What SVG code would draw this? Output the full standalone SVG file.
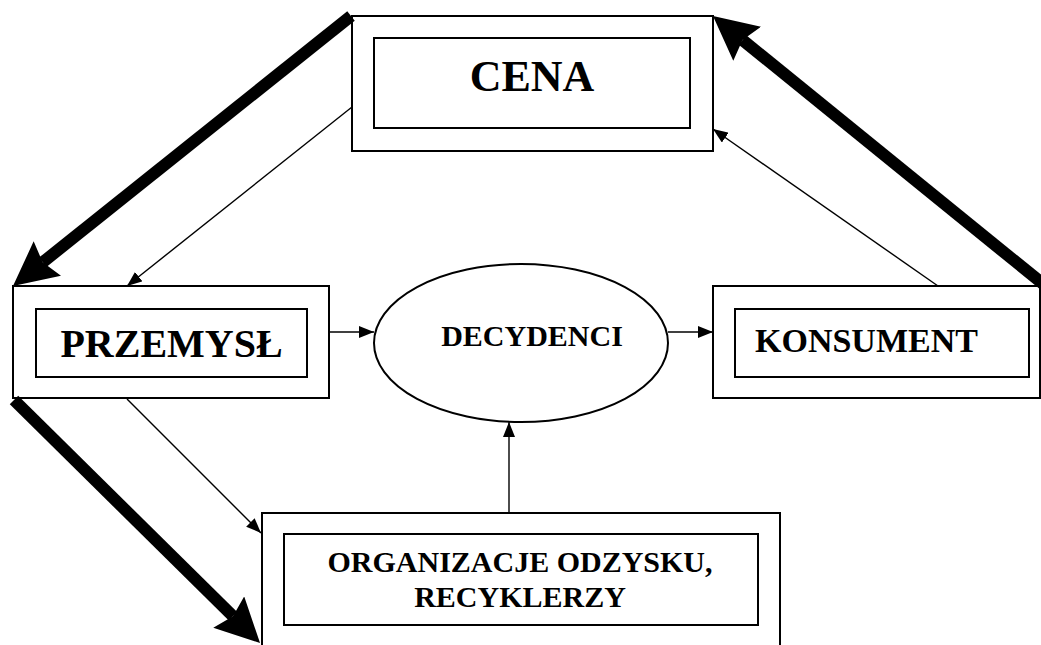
<svg xmlns="http://www.w3.org/2000/svg" width="1041" height="645" viewBox="0 0 1041 645">
<defs>
<marker id="thin" markerUnits="userSpaceOnUse" markerWidth="15" markerHeight="12" viewBox="0 0 15 12" refX="15" refY="6" orient="auto">
<path d="M0,0 L15,6 L0,12 z" fill="#000"/>
</marker>
<marker id="thick" markerUnits="userSpaceOnUse" markerWidth="44" markerHeight="44" viewBox="0 0 44 44" refX="6" refY="22" orient="auto">
<path d="M0,0 L44,22 L0,44 L6,22 z" fill="#000"/>
</marker>
</defs>
<style>
.box{fill:#fff;stroke:#000;stroke-width:2}
.thin{fill:none;stroke:#000;stroke-width:1.4;marker-end:url(#thin)}
.thick{fill:none;stroke:#000;stroke-width:12;marker-end:url(#thick)}
text{font-family:"Liberation Serif","Times New Roman",serif;font-weight:bold;fill:#000}
</style>
<rect width="1041" height="645" fill="#fff"/>
<g id="cena">
<rect class="box" x="352" y="16" width="361" height="135"/>
<rect class="box" x="374" y="38" width="316" height="90"/>
<text x="532" y="91" font-size="44" text-anchor="middle">CENA</text>
</g>
<g id="przemysl">
<rect class="box" x="13" y="286" width="316" height="112"/>
<rect class="box" x="36" y="309" width="271" height="68"/>
<text x="171.5" y="357" font-size="40" text-anchor="middle">PRZEMYSŁ</text>
</g>
<g id="decydenci">
<ellipse class="box" cx="521" cy="343" rx="147" ry="79"/>
<text x="532" y="346" font-size="30" text-anchor="middle">DECYDENCI</text>
</g>
<g id="konsument">
<rect class="box" x="713" y="286" width="327" height="112"/>
<rect class="box" x="735" y="309" width="294" height="68"/>
<text x="755" y="352" font-size="34">KONSUMENT</text>
</g>
<g id="organizacje">
<rect class="box" x="262" y="513" width="518" height="140"/>
<rect class="box" x="284" y="534" width="474" height="91"/>
<text x="520" y="572" font-size="30" text-anchor="middle">ORGANIZACJE ODZYSKU,</text>
<text x="520" y="607" font-size="30" text-anchor="middle">RECYKLERZY</text>
</g>
<g id="connectors">
<line class="thin" x1="352" y1="107" x2="127" y2="286"/>
<line class="thin" x1="938" y1="286" x2="713" y2="129"/>
<line class="thin" x1="127" y1="399" x2="261" y2="533"/>
<line class="thin" x1="329" y1="332" x2="374" y2="332"/>
<line class="thin" x1="668" y1="332" x2="713" y2="332"/>
<line class="thin" x1="509" y1="513" x2="509" y2="422"/>
<line class="thick" x1="351" y1="16" x2="42.7" y2="262.3"/>
<line class="thick" x1="1048" y1="288" x2="742.5" y2="40"/>
<line class="thick" x1="14" y1="400" x2="233" y2="616.3"/>
</g>
</svg>
